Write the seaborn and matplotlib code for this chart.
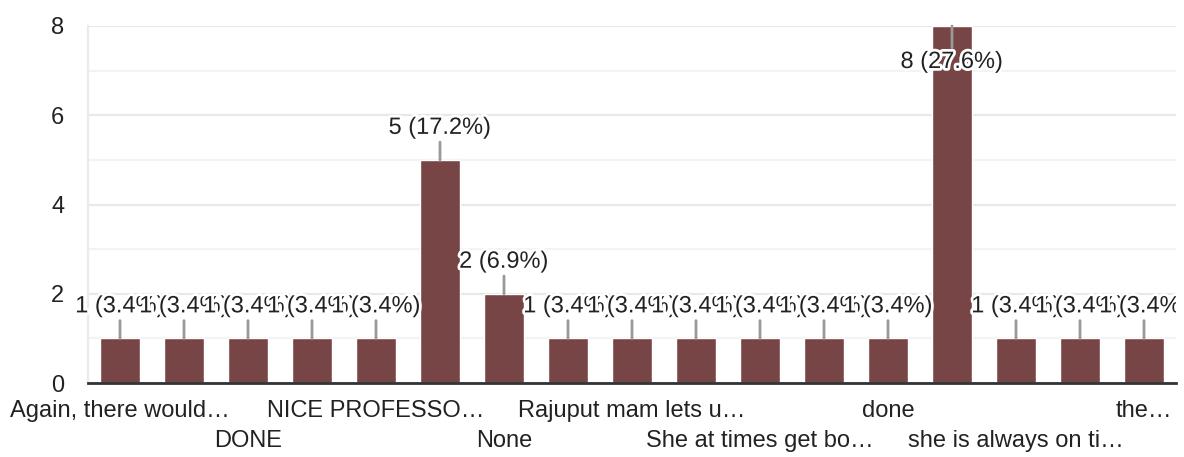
import matplotlib
matplotlib.use("Agg")
import matplotlib.pyplot as plt
import matplotlib.patheffects as pe
from matplotlib.transforms import Bbox, TransformedBbox
import pandas as pd
import seaborn as sns

# Data (response counts per answer, sorted as in the form summary)
answers = ["Again, there would…", "Best teacher", "DONE", "Good", "NICE PROFESSO…",
           "Nice", "None", "Nothing", "Rajuput mam lets u…", "Satisfied",
           "She at times get bo…", "She is good", "done", "good",
           "she is always on ti…", "so good", "the…"]
counts = [1, 1, 1, 1, 1, 5, 2, 1, 1, 1, 1, 1, 1, 8, 1, 1, 1]
yticks = [0, 2, 4, 6, 8]

df = pd.DataFrame({"answer": answers, "count": counts})
total = sum(counts)

sns.set_style("white")
plt.rcParams["font.family"] = ["Liberation Sans", "DejaVu Sans"]

fig = plt.figure(figsize=(11.84, 4.57), dpi=100)
ax = fig.add_axes([88 / 1184, 1 - 383 / 457, 1088 / 1184, 357 / 457])

sns.barplot(data=df, x="answer", y="count", color="#774545", saturation=1,
            width=0.62, ax=ax, zorder=3)

# Grid: major lines at even values, lighter lines in between
ax.set_ylim(0, 8)
ax.set_yticks(yticks)
ax.set_yticks([1, 3, 5, 7], minor=True)
ax.grid(axis="y", which="major", color="#e8e8e8", lw=1.6, zorder=0)
ax.grid(axis="y", which="minor", color="#f3f3f3", lw=1.6, zorder=0)
ax.set_axisbelow(True)

for s in ["top", "right"]:
    ax.spines[s].set_visible(False)
ax.spines["left"].set_color("#ebebeb")
ax.spines["left"].set_linewidth(1.6)
ax.spines["bottom"].set_color("#333333")
ax.spines["bottom"].set_linewidth(2)
ax.spines["bottom"].set_zorder(5)

ax.set_xlabel("")
ax.set_ylabel("")
ax.tick_params(axis="y", which="both", length=0, pad=17, labelsize=17, labelcolor="#222222")
ax.tick_params(axis="x", length=0, pad=12.5, labelsize=17, labelcolor="#222222")

# Only every second answer is labelled, on two staggered rows
labels = []
for i, a in enumerate(answers):
    if i % 2:
        labels.append("")
    elif i % 4 == 2:
        labels.append("\n" + a)
    else:
        labels.append(a)
ax.set_xticks(range(len(answers)))
ax.set_xticklabels(labels)
for t in ax.get_xticklabels():
    t.set_linespacing(1.45)

# Value labels with leader lines, cut off at the right edge of the plot
clip = TransformedBbox(Bbox.from_extents(0, 0, 1176 / 1184, 1), fig.transFigure)
halo = [pe.withStroke(linewidth=4, foreground="white")]
for i, v in enumerate(counts):
    txt = f"{v} ({v / total * 100:.1f}%)"
    if v >= 8:
        off, rel = -36, (0.5, 1)
    else:
        off, rel = 32, (0.5, 0)
    an = ax.annotate(txt, xy=(i, v), xytext=(0, off), textcoords="offset pixels",
                     ha="center", va="center", fontsize=17, color="#222222",
                     path_effects=halo, zorder=6, annotation_clip=False,
                     arrowprops=dict(arrowstyle="-", color="#999999", lw=2,
                                     shrinkA=0, shrinkB=0, relpos=rel))
    an.set_clip_on(True)
    an.set_clip_box(clip)

fig.savefig("out.png", dpi=100)
